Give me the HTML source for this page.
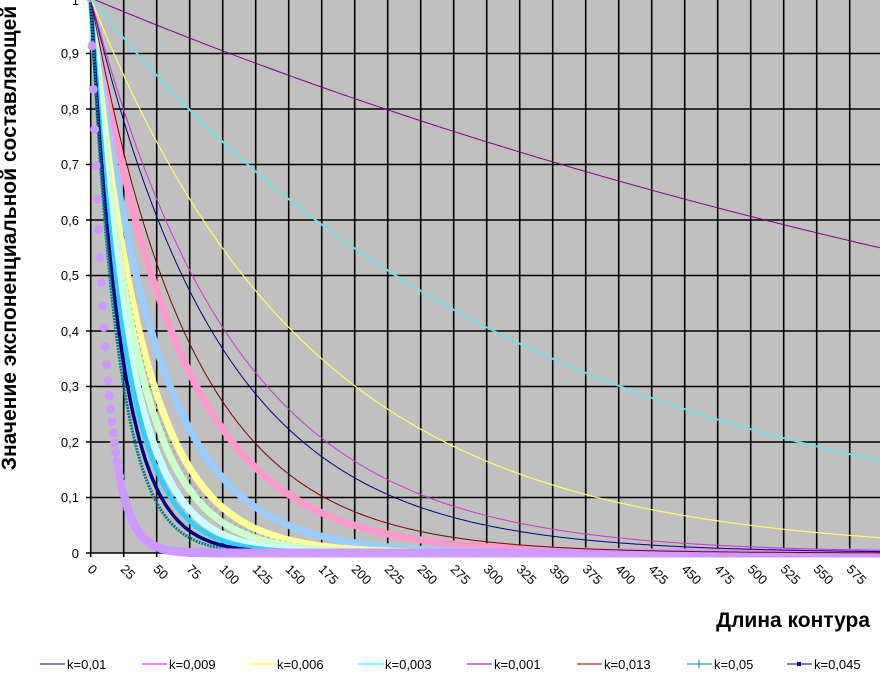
<!DOCTYPE html>
<html><head><meta charset="utf-8"><style>
html,body{margin:0;padding:0;background:#fff;width:880px;height:677px;overflow:hidden}
svg{display:block;font-family:"Liberation Sans",Arial,sans-serif}
</style></head><body>
<svg id="s" width="880" height="677" viewBox="0 0 880 677" xmlns="http://www.w3.org/2000/svg">
<rect x="90.7" y="0" width="800" height="553" fill="#c0c0c0"/>
<g id="grid" stroke="#000" stroke-width="1.6"></g>
<g id="curves" fill="none"></g>
<g id="ylab" font-size="13" text-anchor="end" fill="#000">
<text x="79" y="5">1</text>
<text x="79" y="58">0,9</text>
<text x="79" y="114">0,8</text>
<text x="79" y="169">0,7</text>
<text x="79" y="225">0,6</text>
<text x="79" y="280">0,5</text>
<text x="79" y="336">0,4</text>
<text x="79" y="391">0,3</text>
<text x="79" y="447">0,2</text>
<text x="79" y="502">0,1</text>
<text x="79" y="558">0</text>
</g>
<g id="xlab" font-size="13" fill="#000"></g>
<text transform="translate(16,238) rotate(-90)" text-anchor="middle" font-size="21" font-weight="bold">Значение экспоненциальной составляющей</text>
<text x="870" y="627" text-anchor="end" font-size="21" font-weight="bold">Длина контура</text>
<g font-size="13" fill="#000">
<line x1="40" y1="664" x2="65" y2="664" stroke="#000080"/><text x="67" y="669">k=0,01</text>
<line x1="142" y1="664" x2="167" y2="664" stroke="#ff00ff"/><text x="169" y="669">k=0,009</text>
<line x1="250" y1="664" x2="275" y2="664" stroke="#ffff00"/><text x="277" y="669">k=0,006</text>
<line x1="358" y1="664" x2="383" y2="664" stroke="#00ffff"/><text x="385" y="669">k=0,003</text>
<line x1="467" y1="664" x2="492" y2="664" stroke="#800080"/><text x="494" y="669">k=0,001</text>
<line x1="577" y1="664" x2="602" y2="664" stroke="#800000"/><text x="604" y="669">k=0,013</text>
<line x1="687" y1="664" x2="712" y2="664" stroke="#008080"/><text x="714" y="669">k=0,05</text>
<line x1="699" y1="660" x2="699" y2="668" stroke="#008080"/>
<line x1="787" y1="664" x2="812" y2="664" stroke="#000080"/><rect x="797" y="662" width="4" height="4" fill="#000080"/><text x="814" y="669">k=0,045</text>
</g>
</svg>
<script>
var NS="http://www.w3.org/2000/svg";
var X0=90.7,SX=33.0/25,Y0=553,SY=555;
function X(u){return X0+u*SX}function Y(v){return Y0-v*SY}
var g=document.getElementById('grid'),xl=document.getElementById('xlab');
for(var i=0;i<=24;i++){var x=X0+i*33;var l=document.createElementNS(NS,'line');l.setAttribute('x1',x);l.setAttribute('x2',x);l.setAttribute('y1',0);l.setAttribute('y2',557);g.appendChild(l);
if(i<24){var t=document.createElementNS(NS,'text');t.setAttribute('transform','translate('+(x-4)+',570) rotate(45)');t.textContent=String(i*25);xl.appendChild(t);}}
for(var j=0;j<=10;j++){var y=Y0-j*55.5;var l=document.createElementNS(NS,'line');l.setAttribute('x1',86);l.setAttribute('x2',880);l.setAttribute('y1',y);l.setAttribute('y2',y);g.appendChild(l);}
var c=document.getElementById('curves');
function curve(k,col,w,dash){var d='';for(var u=0;u<=600;u+=1){d+=(u?'L':'M')+X(u).toFixed(1)+' '+Y(Math.exp(-k*u)).toFixed(1);}
var p=document.createElementNS(NS,'path');p.setAttribute('d',d);p.setAttribute('stroke',col);p.setAttribute('stroke-width',w);if(dash)p.setAttribute('stroke-dasharray',dash);c.appendChild(p);}
curve(0.015,'#ff99cc',7);
curve(0.02,'#99ccff',7);
curve(0.025,'#ffff99',7);
curve(0.027,'#b0b0b0',3,'3 3');
curve(0.029,'#ccffcc',7);
curve(0.034,'#ccffff',7);
curve(0.038,'#33ccff',5);
curve(0.043,'#000080',3.5);
curve(0.048,'#008080',3,'2 1');
for(var u=0;u<=600;u++){var cc=document.createElementNS(NS,'circle');cc.setAttribute('cx',X(u));cc.setAttribute('cy',Y(Math.exp(-0.09*u)));cc.setAttribute('r',4.5);cc.setAttribute('fill','#cc99ff');c.appendChild(cc);}
curve(0.013,'#800000',1);
curve(0.01,'#000080',1);
curve(0.009,'#cc33cc',1);
curve(0.006,'#ffff66',1.2);
curve(0.003,'#77dddd',2);
curve(0.001,'#800080',1);
</script>
</body></html>
